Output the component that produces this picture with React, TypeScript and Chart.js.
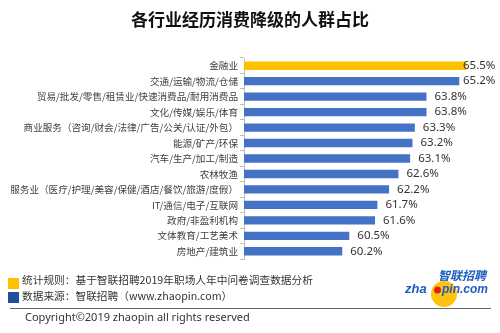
import React, { useEffect, useRef } from "react";
import { Chart, registerables } from "chart.js";

Chart.register(...registerables);

const categories = [
  "金融业",
  "交通/运输/物流/仓储",
  "贸易/批发/零售/租赁业/快速消费品/耐用消费品",
  "文化/传媒/娱乐/体育",
  "商业服务（咨询/财会/法律/广告/公关/认证/外包）",
  "能源/矿产/环保",
  "汽车/生产/加工/制造",
  "农林牧渔",
  "服务业（医疗/护理/美容/保健/酒店/餐饮/旅游/度假）",
  "IT/通信/电子/互联网",
  "政府/非盈利机构",
  "文体教育/工艺美术",
  "房地产/建筑业",
];
const values = [65.5, 65.2, 63.8, 63.8, 63.3, 63.2, 63.1, 62.6, 62.2, 61.7, 61.6, 60.5, 60.2];
const barColors = ["#FFC000", "#4472C4", "#4472C4", "#4472C4", "#4472C4", "#4472C4", "#4472C4", "#4472C4", "#4472C4", "#4472C4", "#4472C4", "#4472C4", "#4472C4"];
const title = "各行业经历消费降级的人群占比";
const footnote1 = "统计规则：基于智联招聘2019年职场人年中问卷调查数据分析";
const footnote2 = "数据来源：智联招聘（www.zhaopin.com）";
const copyright = "Copyright©2019 zhaopin all rights reserved";

const CJK = '"Noto Sans CJK SC", "Noto Sans", sans-serif';

const decor = {
  id: "decor",
  afterDraw(chart: any) {
    const ctx = chart.ctx as CanvasRenderingContext2D;
    ctx.save();
    // title
    ctx.fillStyle = "#111";
    ctx.font = `bold 17px ${CJK}`;
    ctx.textAlign = "center";
    ctx.textBaseline = "middle";
    ctx.fillText(title, 250, 20);

    // value labels
    const meta = chart.getDatasetMeta(0);
    ctx.font = `11.5px "Noto Sans", "Open Sans", sans-serif`;
    ctx.fillStyle = "#333";
    ctx.textAlign = "left";
    meta.data.forEach((bar: any, i: number) => {
      const x = Math.min(bar.x + 8, 463);
      ctx.fillText(values[i].toFixed(1) + "%", x, bar.y);
    });

    // footer
    ctx.fillStyle = "#FFC000";
    ctx.fillRect(8, 278, 11, 11);
    ctx.fillStyle = "#1F4E9C";
    ctx.fillRect(8, 292, 11, 11);
    ctx.fillStyle = "#333";
    ctx.font = `10.7px ${CJK}`;
    ctx.fillText(footnote1, 22, 280);
    ctx.fillText(footnote2, 22, 296);
    ctx.strokeStyle = "#666";
    ctx.lineWidth = 1;
    ctx.beginPath();
    ctx.moveTo(10, 308.5);
    ctx.lineTo(491, 308.5);
    ctx.stroke();
    ctx.font = `11px "Noto Sans", sans-serif`;
    ctx.fillText(copyright, 25, 318);

    // logo
    ctx.fillStyle = "#FFC20E";
    ctx.beginPath();
    ctx.arc(444, 294, 13, 0, Math.PI * 2);
    ctx.fill();
    ctx.fillStyle = "#1D5BC0";
    ctx.font = `italic bold 12px ${CJK}`;
    ctx.textAlign = "left";
    ctx.fillText("智联招聘", 438, 275, 52);
    ctx.font = `italic bold 13px "Liberation Sans", sans-serif`;
    ctx.fillText("zha", 405, 289, 28);
    ctx.fillText("pin.com", 442, 289, 46);
    ctx.fillStyle = "#E02020";
    ctx.beginPath();
    ctx.arc(437.5, 290, 3.5, 0, Math.PI * 2);
    ctx.fill();
    ctx.restore();
  },
};

export default function App() {
  const ref = useRef<HTMLCanvasElement>(null);
  useEffect(() => {
    if (!ref.current) return;
    const chart = new Chart(ref.current, {
      type: "bar",
      data: {
        labels: categories,
        datasets: [
          {
            data: values,
            backgroundColor: barColors,
            barPercentage: 0.54,
            categoryPercentage: 1,
          },
        ],
      },
      options: {
        indexAxis: "y",
        animation: false,
        responsive: false,
        devicePixelRatio: 1,
        layout: { padding: { top: 58, bottom: 74, left: 0, right: 22 } },
        plugins: { legend: { display: false }, tooltip: { enabled: false } },
        scales: {
          x: { display: false, min: 56, max: 66 },
          y: {
            afterFit(scale: any) {
              scale.width = 244;
            },
            grid: { drawOnChartArea: false, drawTicks: true, tickLength: 4, color: "#BFBFBF" },
            border: { display: true, color: "#BFBFBF" },
            ticks: {
              padding: 2,
              color: "#404040",
              font: { family: CJK, size: 9.6 },
              autoSkip: false,
            },
          },
        },
      },
      plugins: [decor],
    });
    return () => chart.destroy();
  }, []);
  return (
    <div style={{ position: "absolute", left: 0, top: 0, width: 500, height: 333, background: "#fff" }}>
      <canvas ref={ref} width={500} height={333} style={{ display: "block" }} />
    </div>
  );
}
